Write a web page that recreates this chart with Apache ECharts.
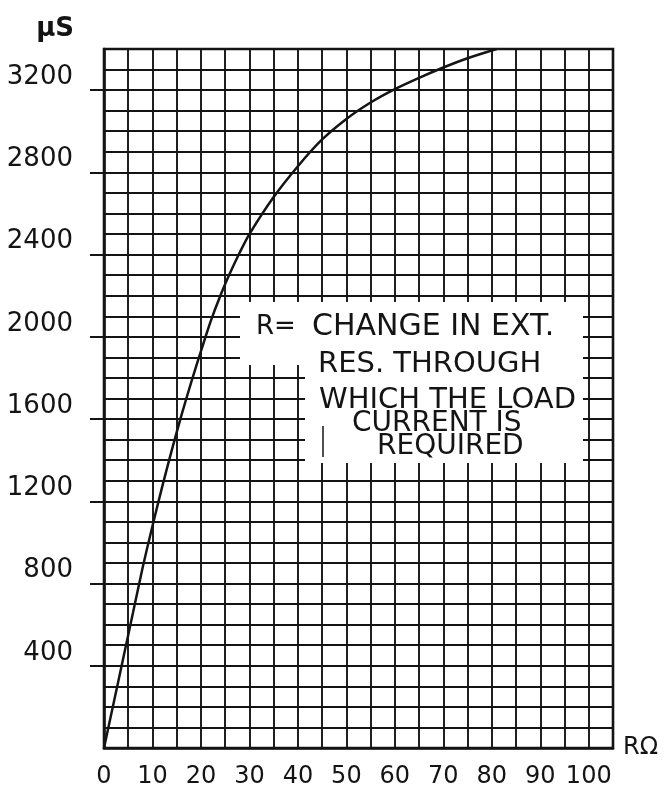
<!DOCTYPE html>
<html>
<head>
<meta charset="utf-8">
<script src="https://cdn.jsdelivr.net/npm/echarts@6/dist/echarts.min.js"></script>
<style>
html,body{margin:0;padding:0;background:#fff;}
#chart{width:672px;height:790px;}
</style>
</head>
<body>
<div id="chart"></div>
<script>
// Data
const resistanceOhm = [0, 2, 4, 6, 8, 10, 12, 14, 16, 18, 20, 22, 24, 26, 28, 30, 35, 40, 45, 50, 55, 60, 65, 70, 75, 81];
const timeMicroS = [0, 220, 440, 660, 880, 1080, 1270, 1450, 1620, 1780, 1930, 2075, 2200, 2310, 2410, 2500, 2680, 2830, 2960, 3060, 3140, 3205, 3260, 3310, 3355, 3400];
const xTickLabels = [0, 10, 20, 30, 40, 50, 60, 70, 80, 90, 100];
const yTickLabels = [400, 800, 1200, 1600, 2000, 2400, 2800, 3200];
const noteLines = ['R=', 'CHANGE IN EXT.', 'RES. THROUGH', 'WHICH THE LOAD', 'CURRENT IS', 'REQUIRED'];

const seriesData = resistanceOhm.map((x, i) => [x, timeMicroS[i]]);
const FONT = '"DejaVu Sans", "Noto Sans", sans-serif';
const INK = '#141414';

const chart = echarts.init(document.getElementById('chart'), null, {renderer: 'canvas'});
chart.setOption({
  backgroundColor: '#ffffff',
  animation: false,
  grid: {
    left: 104, right: 59, top: 49, bottom: 42,
    show: true, borderColor: INK, borderWidth: 2.6, backgroundColor: 'transparent'
  },
  xAxis: {
    type: 'value', min: 0, max: 105, interval: 5,
    name: 'RΩ', nameLocation: 'end', nameGap: 10,
    nameTextStyle: {fontFamily: FONT, fontSize: 24, color: INK, padding: [0, 0, 16, 0]},
    axisLine: {show: true, lineStyle: {color: INK, width: 2.6}},
    axisTick: {show: false},
    axisLabel: {customValues: xTickLabels, fontFamily: FONT, fontSize: 24, color: INK, margin: 17,
      formatter: v => String(v)},
    splitLine: {show: true, lineStyle: {color: INK, width: 1.9}}
  },
  yAxis: [{
    type: 'value', min: 0, max: 3400, interval: 100, position: 'left',
    name: 'μS', nameLocation: 'end', nameGap: 7,
    nameTextStyle: {fontFamily: FONT, fontSize: 26, fontWeight: 'bold', color: INK, align: 'right', padding: [0, 30, 0, 0]},
    axisLine: {show: true, lineStyle: {color: INK, width: 2.6}},
    axisTick: {show: false},
    axisLabel: {customValues: yTickLabels, fontFamily: FONT, fontSize: 26, color: INK, margin: 31,
      verticalAlign: 'bottom', formatter: v => String(v)},
    splitLine: {show: true, lineStyle: {color: INK, width: 1.9}}
  }, {
    type: 'value', min: 0, max: 3400, interval: 100, position: 'left', offset: 0,
    axisLine: {show: false},
    axisTick: {show: true, customValues: yTickLabels, length: 14, lineStyle: {color: INK, width: 2}},
    axisLabel: {show: false},
    splitLine: {show: false}
  }],
  series: [{
    type: 'line',
    data: seriesData,
    smooth: 0.3,
    showSymbol: false,
    lineStyle: {color: INK, width: 2.5},
    z: 5
  }],
  graphic: [
    {type: 'rect', shape: {x: 240, y: 302, width: 343, height: 63}, style: {fill: '#fff'}, z: 50},
    {type: 'rect', shape: {x: 305, y: 365, width: 278, height: 98}, style: {fill: '#fff'}, z: 50},
    {type: 'text', x: 256, y: 327, style: {text: noteLines[0], font: '26px ' + FONT, fill: INK, textVerticalAlign: 'middle'}, z: 60},
    {type: 'text', x: 312, y: 327, style: {text: noteLines[1], font: '30px ' + FONT, fill: INK, textVerticalAlign: 'middle'}, z: 60},
    {type: 'text', x: 318, y: 364, style: {text: noteLines[2], font: '29px ' + FONT, fill: INK, textVerticalAlign: 'middle'}, z: 60},
    {type: 'text', x: 319, y: 400, style: {text: noteLines[3], font: '29px ' + FONT, fill: INK, textVerticalAlign: 'middle'}, z: 60},
    {type: 'text', x: 352, y: 424, style: {text: noteLines[4], font: '28px ' + FONT, fill: INK, textVerticalAlign: 'middle'}, z: 60},
    {type: 'text', x: 377, y: 447, style: {text: noteLines[5], font: '28px ' + FONT, fill: INK, textVerticalAlign: 'middle'}, z: 60},
    {type: 'line', shape: {x1: 323, y1: 426, x2: 323, y2: 457}, style: {stroke: INK, lineWidth: 1.5}, z: 60}
  ]
});
</script>
</body>
</html>
